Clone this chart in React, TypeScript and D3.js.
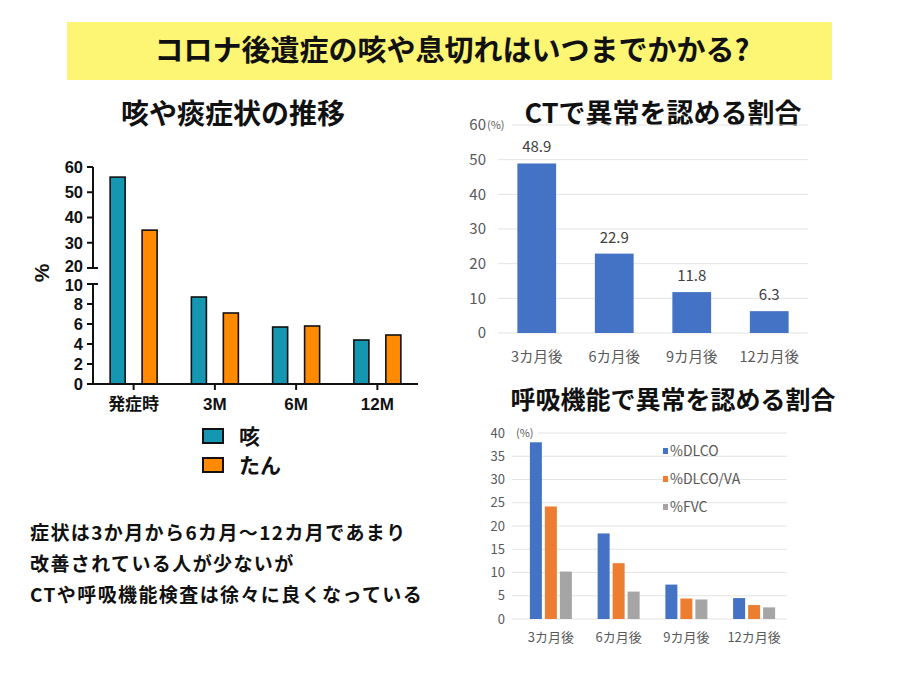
import React from 'react';
import * as d3 from 'd3';

// left chart: 咳や痰症状の推移
const symptomCategories = ['発症時', '3M', '6M', '12M'];
const symptomSeries = ['咳', 'たん'];
const coughValues = [56, 8.7, 5.7, 4.4];
const phlegmValues = [35, 7.1, 5.8, 4.9];
const upperTicks = [20, 30, 40, 50, 60];
const lowerTicks = [0, 2, 4, 6, 8, 10];

// right top: CTで異常を認める割合
const ctCategories = ['3カ月後', '6カ月後', '9カ月後', '12カ月後'];
const ctValues = [48.9, 22.9, 11.8, 6.3];
const ctTicks = [0, 10, 20, 30, 40, 50, 60];

// right bottom: 呼吸機能で異常を認める割合
const lungCategories = ['3カ月後', '6カ月後', '9カ月後', '12カ月後'];
const lungSeries = ['%DLCO', '%DLCO/VA', '%FVC'];
const dlcoValues = [38.0, 18.4, 7.4, 4.5];
const dlcoVaValues = [24.2, 12.0, 4.4, 3.0];
const fvcValues = [10.2, 5.9, 4.2, 2.5];
const lungTicks = [0, 5, 10, 15, 20, 25, 30, 35, 40];

const noteLines = [
  '症状は3か月から6カ月〜12カ月であまり',
  '改善されている人が少ないが',
  'CTや呼吸機能検査は徐々に良くなっている',
];

const JP = '"Noto Sans CJK JP", "Noto Sans", sans-serif';
const BOLD_LATIN = '"Liberation Sans", Arial, "Noto Sans CJK JP", sans-serif';

const symptomColors = ['#1597b1', '#ff8a00'];
const lungColors = ['#4472c4', '#ed7d31', '#a5a5a5'];

const SymptomChart = () => {
  const x = d3.scaleBand().domain(symptomCategories).range([93, 418]);
  const inner = d3.scaleBand().domain(symptomSeries).range([-23.5, 23.5]).paddingInner(0.53);
  const yUpper = d3.scaleLinear().domain([20, 60]).range([268, 167]);
  const yLower = d3.scaleLinear().domain([0, 10]).range([384, 284]);
  const yOf = (v: number) => (v > 10 ? yUpper(v) : yLower(v));
  const seriesValues = [coughValues, phlegmValues];

  return (
    <g>
      <text x={233} y={124} textAnchor="middle" fontFamily={JP} fontWeight="bold" fontSize={28} fill="#111">
        咳や痰症状の推移
      </text>
      {/* bars */}
      {symptomCategories.map((c, i) =>
        symptomSeries.map((s, j) => {
          const v = seriesValues[j][i];
          const bx = (x(c) as number) + x.bandwidth() / 2 + (inner(s) as number);
          return (
            <rect
              key={c + s}
              x={bx}
              y={yOf(v)}
              width={inner.bandwidth()}
              height={yLower(0) - yOf(v)}
              fill={symptomColors[j]}
              stroke="#111"
              strokeWidth={1.6}
            />
          );
        })
      )}
      {/* broken y axis */}
      <line x1={93} x2={93} y1={yUpper(60)} y2={yUpper(20)} stroke="#111" strokeWidth={2} />
      <line x1={93} x2={93} y1={yLower(10)} y2={yLower(0)} stroke="#111" strokeWidth={2} />
      <line x1={93} x2={98} y1={yUpper(20)} y2={yUpper(20)} stroke="#111" strokeWidth={2} />
      <line x1={93} x2={98} y1={yLower(10)} y2={yLower(10)} stroke="#111" strokeWidth={2} />
      {upperTicks.map((t) => (
        <g key={'u' + t}>
          <line x1={87} x2={93} y1={yUpper(t)} y2={yUpper(t)} stroke="#111" strokeWidth={2} />
          <text
            x={83}
            y={yUpper(t) - (t === 20 ? 1.5 : 0)}
            dy="0.36em"
            textAnchor="end"
            fontFamily={BOLD_LATIN}
            fontWeight="bold"
            fontSize={16.5}
            fill="#111"
          >
            {t}
          </text>
        </g>
      ))}
      {lowerTicks.map((t) => (
        <g key={'l' + t}>
          <line x1={87} x2={93} y1={yLower(t)} y2={yLower(t)} stroke="#111" strokeWidth={2} />
          <text
            x={83}
            y={yLower(t) + (t === 10 ? 1.5 : 0)}
            dy="0.36em"
            textAnchor="end"
            fontFamily={BOLD_LATIN}
            fontWeight="bold"
            fontSize={16.5}
            fill="#111"
          >
            {t}
          </text>
        </g>
      ))}
      {/* x axis */}
      <line x1={92} x2={418} y1={384} y2={384} stroke="#111" strokeWidth={2} />
      {symptomCategories.map((c) => {
        const cx = (x(c) as number) + x.bandwidth() / 2;
        return (
          <g key={c}>
            <line x1={cx} x2={cx} y1={384} y2={390} stroke="#111" strokeWidth={2} />
            <text x={cx} y={410} textAnchor="middle" fontFamily={BOLD_LATIN} fontWeight="bold" fontSize={17} fill="#111">
              {c}
            </text>
          </g>
        );
      })}
      <text
        transform="translate(49,273) rotate(-90)"
        textAnchor="middle"
        fontFamily={BOLD_LATIN}
        fontWeight="bold"
        fontSize={21}
        fill="#111"
      >
        %
      </text>
      {/* legend */}
      {symptomSeries.map((s, j) => (
        <g key={s} transform={`translate(203,${429 + j * 29})`}>
          <rect x={0} y={0} width={20} height={14} fill={symptomColors[j]} stroke="#111" strokeWidth={2} />
          <text x={36} y={7} dy="0.36em" fontFamily={JP} fontWeight="bold" fontSize={21} fill="#111">
            {s}
          </text>
        </g>
      ))}
    </g>
  );
};

const CtChart = () => {
  const x = d3.scaleBand().domain(ctCategories).range([498, 808]).paddingInner(0.5).paddingOuter(0.25);
  const y = d3.scaleLinear().domain([0, 60]).range([333, 125]);
  return (
    <g>
      <text x={663} y={123} textAnchor="middle" fontFamily={JP} fontWeight="bold" fontSize={27} fill="#111">
        CTで異常を認める割合
      </text>
      {ctTicks.map((t) => (
        <g key={t}>
          <line x1={t === 60 ? 512 : 498} x2={808} y1={y(t)} y2={y(t)} stroke="#e3e3e3" strokeWidth={1} />
          <text x={486} y={y(t)} dy="0.35em" textAnchor="end" fontFamily={JP} fontSize={15} fill="#595959">
            {t}
          </text>
        </g>
      ))}
      <text x={487} y={y(60)} dy="0.35em" fontFamily={JP} fontSize={11} fill="#595959">
        (%)
      </text>
      {ctCategories.map((c, i) => (
        <g key={c}>
          <rect x={x(c)} y={y(ctValues[i])} width={x.bandwidth()} height={y(0) - y(ctValues[i])} fill="#4472c4" />
          <text
            x={(x(c) as number) + x.bandwidth() / 2}
            y={y(ctValues[i]) - 11}
            textAnchor="middle"
            fontFamily={JP}
            fontSize={15}
            fill="#404040"
          >
            {ctValues[i]}
          </text>
          <text
            x={(x(c) as number) + x.bandwidth() / 2}
            y={362}
            textAnchor="middle"
            fontFamily={JP}
            fontSize={14.5}
            fill="#595959"
          >
            {c}
          </text>
        </g>
      ))}
    </g>
  );
};

const LungChart = () => {
  const x = d3.scaleBand().domain(lungCategories).range([517, 788]);
  const inner = d3.scaleBand().domain(lungSeries).range([-21, 21]).paddingInner(0.2);
  const y = d3.scaleLinear().domain([0, 40]).range([619, 433]);
  const seriesValues = [dlcoValues, dlcoVaValues, fvcValues];
  return (
    <g>
      <text x={673} y={409} textAnchor="middle" fontFamily={JP} fontWeight="bold" fontSize={25} fill="#111">
        呼吸機能で異常を認める割合
      </text>
      {lungTicks.map((t) => (
        <g key={t}>
          <line x1={t === 40 ? 538 : 512} x2={787} y1={y(t)} y2={y(t)} stroke="#e3e3e3" strokeWidth={1} />
          <text x={505} y={y(t)} dy="0.35em" textAnchor="end" fontFamily={JP} fontSize={13} fill="#595959">
            {t}
          </text>
        </g>
      ))}
      <text x={516} y={y(40)} dy="0.35em" fontFamily={JP} fontSize={11} fill="#595959">
        (%)
      </text>
      {lungCategories.map((c, i) => {
        const cx = (x(c) as number) + x.bandwidth() / 2;
        return (
          <g key={c}>
            {lungSeries.map((s, j) => {
              const v = seriesValues[j][i];
              return (
                <rect
                  key={s}
                  x={cx + (inner(s) as number)}
                  y={y(v)}
                  width={inner.bandwidth()}
                  height={y(0) - y(v)}
                  fill={lungColors[j]}
                />
              );
            })}
            <text x={cx} y={642} textAnchor="middle" fontFamily={JP} fontSize={13} fill="#595959">
              {c}
            </text>
          </g>
        );
      })}
      {lungSeries.map((s, j) => (
        <g key={s} transform={`translate(663,${448 + j * 28})`}>
          <rect x={0} y={0} width={5} height={6} fill={lungColors[j]} />
          <text x={7} y={3} dy="0.35em" fontFamily={JP} fontSize={14} fill="#595959">
            {s}
          </text>
        </g>
      ))}
    </g>
  );
};

const App = () => {
  return (
    <svg
      width={900}
      height={675}
      viewBox="0 0 900 675"
      style={{ position: 'absolute', left: 0, top: 0, background: '#fff' }}
    >
      <rect x={0} y={0} width={900} height={675} fill="#fff" />
      <rect x={67} y={22} width={765} height={58} fill="#fdf574" />
      <text x={452} y={61} textAnchor="middle" fontFamily={JP} fontWeight="bold" fontSize={29} fill="#111">
        コロナ後遺症の咳や息切れはいつまでかかる?
      </text>
      <SymptomChart />
      <CtChart />
      <LungChart />
      {noteLines.map((line, i) => (
        <text key={i} x={30} y={540 + i * 31} fontFamily={JP} fontWeight="bold" fontSize={19} letterSpacing={1.4} fill="#111">
          {line}
        </text>
      ))}
    </svg>
  );
};

export default App;
